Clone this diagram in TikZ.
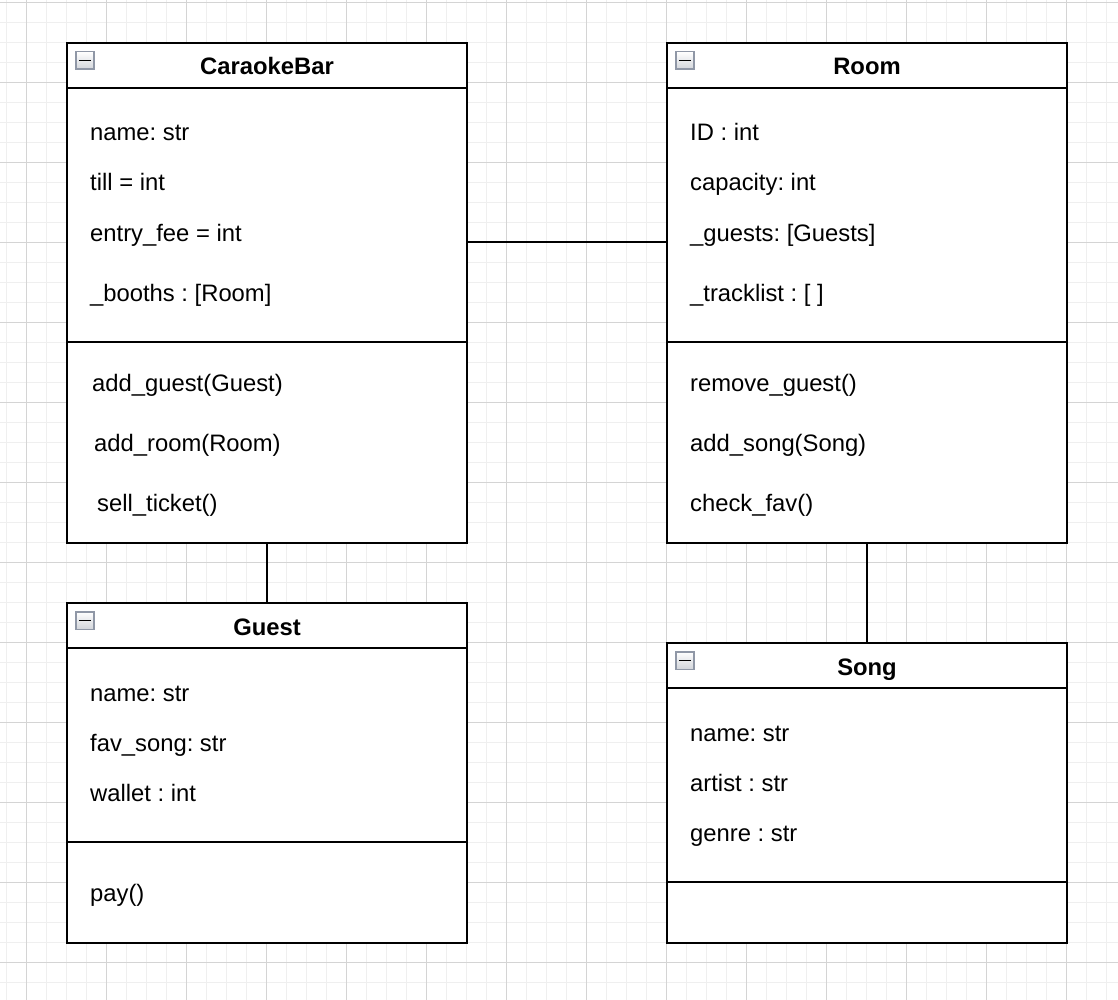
\documentclass[tikz,border=0pt]{standalone}
\usepackage{fontspec}
\setmainfont{Liberation Sans}
\usetikzlibrary{calc}
\definecolor{gridminor}{HTML}{EFEFEF}
\definecolor{gridmajor}{HTML}{D4D4D4}
\definecolor{iconborder}{HTML}{8F97A6}
\definecolor{iconfill}{HTML}{D2D5DA}
\tikzset{
  classbox/.style={draw=black, line width=1.6pt, fill=white, minimum width=400pt, inner sep=0pt},
  sepline/.style={draw=black, line width=1.6pt},
  conn/.style={draw=black, line width=1.6pt},
  member/.style={anchor=base west, inner sep=0pt, font=\fontsize{23.8}{28}\selectfont},
  title/.style={anchor=base, inner sep=0pt, font=\fontsize{23.8}{28}\selectfont\bfseries},
  iconbox/.style={draw=iconborder, line width=1.5pt, top color=white, bottom color=iconfill, minimum width=18pt, minimum height=17.5pt, inner sep=0pt},
}
\frenchspacing
\begin{document}
\begin{tikzpicture}[x=1pt, y=-1pt]
\useasboundingbox (0,0) rectangle (1118,1000);
\fill[white] (0,0) rectangle (1118,1000);
% grid
\foreach \i in {0,...,55} {\draw[gridminor, line width=1pt] (6.7+20*\i,0) -- (6.7+20*\i,1000);}
\foreach \i in {0,...,49} {\draw[gridminor, line width=1pt] (0,2.7+20*\i) -- (1118,2.7+20*\i);}
\foreach \i in {0,...,13} {\draw[gridmajor, line width=1pt] (26.7+80*\i,0) -- (26.7+80*\i,1000);}
\foreach \i in {0,...,12} {\draw[gridmajor, line width=1pt] (0,2.7+80*\i) -- (1118,2.7+80*\i);}

% ---------- CaraokeBar ----------
\node[classbox, minimum height=500pt] (cb) at (267,293) {};
\draw[sepline] ($(cb.north west)+(0,46)$) -- ($(cb.north east)+(0,46)$);
\draw[sepline] ($(cb.north west)+(0,300)$) -- ($(cb.north east)+(0,300)$);
\node[iconbox] (cbicon) at (85,60.5) {};
\draw[line width=1.8pt] ($(cbicon.west)+(3.5,0)$) -- ($(cbicon.east)+(-3.5,0)$);
\node[title] (cbt) at (267,75) {CaraokeBar};
\node[member] (cb1) at (90,141) {name: str};
\node[member] (cb2) at (90,191) {till = int};
\node[member] (cb3) at (90,241) {entry\_fee = int};
\node[member] (cb4) at (90,301) {\_booths : [Room]};
\node[member] (cb5) at (92,391) {add\_guest(Guest)};
\node[member] (cb6) at (94,451) {add\_room(Room)};
\node[member] (cb7) at (97,511) {sell\_ticket()};

% ---------- Room ----------
\node[classbox, minimum height=500pt] (room) at (867,293) {};
\draw[sepline] ($(room.north west)+(0,46)$) -- ($(room.north east)+(0,46)$);
\draw[sepline] ($(room.north west)+(0,300)$) -- ($(room.north east)+(0,300)$);
\node[iconbox] (roomicon) at (685,60.5) {};
\draw[line width=1.8pt] ($(roomicon.west)+(3.5,0)$) -- ($(roomicon.east)+(-3.5,0)$);
\node[title] (roomt) at (867,75) {Room};
\node[member] (r1) at (690,141) {ID : int};
\node[member] (r2) at (690,191) {capacity: int};
\node[member] (r3) at (690,241) {\_guests: [Guests]};
\node[member] (r4) at (690,301) {\_tracklist : [ ]};
\node[member] (r5) at (690,391) {remove\_guest()};
\node[member] (r6) at (690,451) {add\_song(Song)};
\node[member] (r7) at (690,511) {check\_fav()};

% ---------- Guest ----------
\node[classbox, minimum height=340pt] (guest) at (267,773) {};
\draw[sepline] ($(guest.north west)+(0,46)$) -- ($(guest.north east)+(0,46)$);
\draw[sepline] ($(guest.north west)+(0,240)$) -- ($(guest.north east)+(0,240)$);
\node[iconbox] (guesticon) at (85,620.5) {};
\draw[line width=1.8pt] ($(guesticon.west)+(3.5,0)$) -- ($(guesticon.east)+(-3.5,0)$);
\node[title] (guestt) at (267,635) {Guest};
\node[member] (g1) at (90,701) {name: str};
\node[member] (g2) at (90,751) {fav\_song: str};
\node[member] (g3) at (90,801) {wallet : int};
\node[member] (g4) at (90,901) {pay()};

% ---------- Song ----------
\node[classbox, minimum height=300pt] (song) at (867,793) {};
\draw[sepline] ($(song.north west)+(0,46)$) -- ($(song.north east)+(0,46)$);
\draw[sepline] ($(song.north west)+(0,240)$) -- ($(song.north east)+(0,240)$);
\node[iconbox] (songicon) at (685,660.5) {};
\draw[line width=1.8pt] ($(songicon.west)+(3.5,0)$) -- ($(songicon.east)+(-3.5,0)$);
\node[title] (songt) at (867,675) {Song};
\node[member] (s1) at (690,741) {name: str};
\node[member] (s2) at (690,791) {artist : str};
\node[member] (s3) at (690,841) {genre : str};

% ---------- connectors ----------
\draw[conn] ($(cb.north east)+(0,200)$) -- ($(room.north west)+(0,200)$);
\draw[conn] (cb.south) -- (guest.north);
\draw[conn] (room.south) -- (song.north);
\end{tikzpicture}
\end{document}
